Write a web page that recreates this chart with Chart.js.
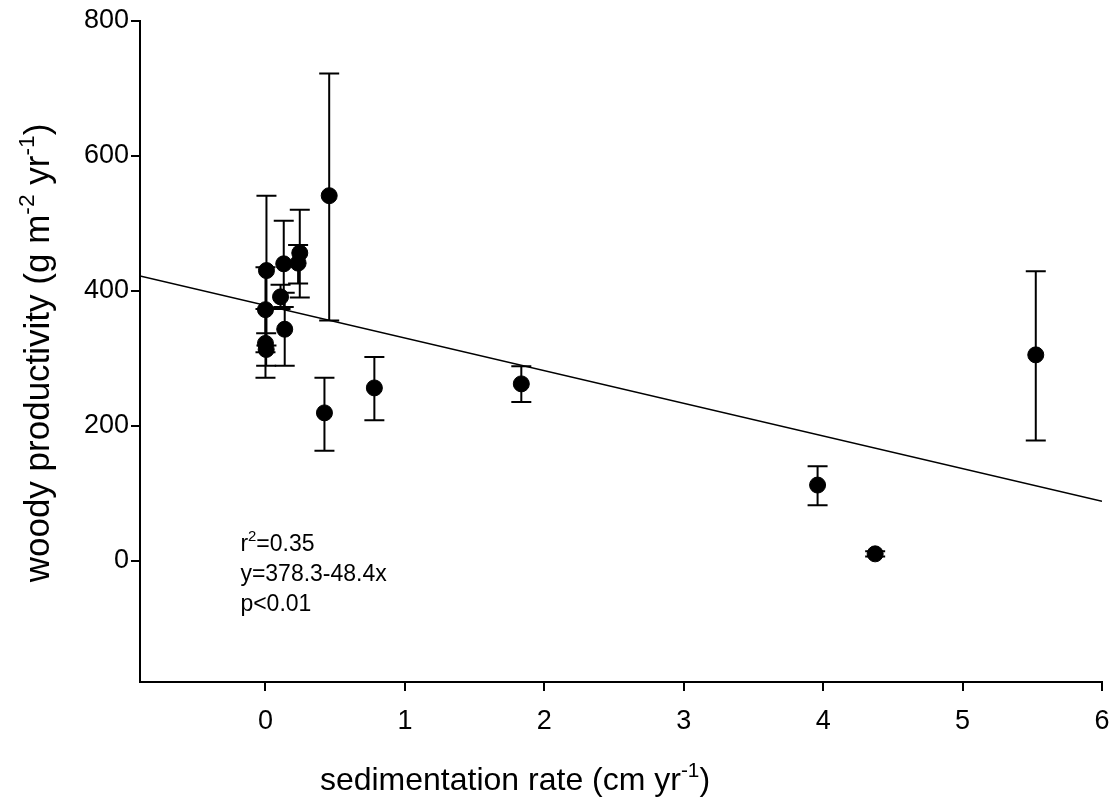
<!DOCTYPE html>
<html>
<head>
<title>Woody productivity vs sedimentation rate</title>
<style>
  body, html { margin: 0; padding: 0; background: #fff; }
  #wrap { width: 1117px; height: 802px; }
</style>
</head>
<body>
<div id="wrap"><canvas id="chart"></canvas></div>
<script src="https://cdn.jsdelivr.net/npm/chart.js"></script>
<script>
// values
const sedRate   = [0.457, 0.007, 0.131, 0.246, 0.234, 0.108, 0.0, 0.138, 0.0, 0.005, 0.423, 0.781, 1.835, 3.96, 4.373, 5.525];
const woodyProd = [541, 430, 440, 456, 441, 391, 372, 343, 322, 313, 219, 256, 262, 112, 10, 305];
const errLow    = [356, 319, 376, 390, 411, 373, 309, 289, 271, 289, 163, 208, 235, 82, 6, 178];
const errHigh   = [722, 541, 504, 520, 468, 409, 435, 397, 373, 337, 271, 302, 288, 140, 14, 429];

// regression line end points
const fitX = [-0.9, 6];
const fitY = [421.9, 87.9];

const xTicks = [0, 1, 2, 3, 4, 5, 6];
const yTicks = [0, 200, 400, 600, 800];

const FONT = '"Liberation Sans", Arial, sans-serif';

// draws text made of [string, isSuperscript] pieces
function richText(ctx, parts, x, y, size, align) {
    let total = 0;
    parts.forEach(p => {
        ctx.font = (p[1] ? size * 0.65 : size) + 'px ' + FONT;
        total += ctx.measureText(p[0]).width;
    });
    let cx = align === 'center' ? x - total / 2 : x;
    ctx.textAlign = 'left';
    ctx.textBaseline = 'alphabetic';
    parts.forEach(p => {
        ctx.font = (p[1] ? size * 0.65 : size) + 'px ' + FONT;
        ctx.fillText(p[0], cx, p[1] ? y - size * 0.42 : y);
        cx += ctx.measureText(p[0]).width;
    });
}

const errorBars = {
    id: 'errorBars',
    beforeDatasetsDraw(chart) {
        const ctx = chart.ctx, xs = chart.scales.x, ys = chart.scales.y;
        ctx.save();
        ctx.strokeStyle = '#000';
        ctx.lineWidth = 2;
        sedRate.forEach((v, i) => {
            const px = xs.getPixelForValue(v);
            const lo = ys.getPixelForValue(errLow[i]);
            const hi = ys.getPixelForValue(errHigh[i]);
            ctx.beginPath();
            ctx.moveTo(px, lo); ctx.lineTo(px, hi);
            ctx.moveTo(px - 10, lo); ctx.lineTo(px + 10, lo);
            ctx.moveTo(px - 10, hi); ctx.lineTo(px + 10, hi);
            ctx.stroke();
        });
        ctx.restore();
    }
};

const labels = {
    id: 'labels',
    afterDraw(chart) {
        const ctx = chart.ctx;
        ctx.save();
        ctx.fillStyle = '#000';
        // x title
        richText(ctx, [['sedimentation rate (cm yr', 0], ['-1', 1], [')', 0]],
            515, 790, 32, 'center');
        // y title
        ctx.translate(49, 353);
        ctx.rotate(-Math.PI / 2);
        richText(ctx, [['woody productivity (g m', 0], ['-2', 1], [' yr', 0], ['-1', 1], [')', 0]],
            0, 0, 35, 'center');
        ctx.restore();
        // fit statistics
        ctx.save();
        ctx.fillStyle = '#000';
        const tx = chart.scales.x.getPixelForValue(-0.18);
        richText(ctx, [['r', 0], ['2', 1], ['=0.35', 0]], tx, 551, 23, 'left');
        richText(ctx, [['y=378.3-48.4x', 0]], tx, 581, 23, 'left');
        richText(ctx, [['p<0.01', 0]], tx, 611, 23, 'left');
        ctx.restore();
    }
};

new Chart(document.getElementById('chart'), {
    type: 'scatter',
    data: {
        datasets: [
            {
                data: sedRate.map((v, i) => ({ x: v, y: woodyProd[i] })),
                backgroundColor: '#000',
                borderColor: '#000',
                pointRadius: 8,
                pointHoverRadius: 8
            },
            {
                type: 'line',
                data: fitX.map((v, i) => ({ x: v, y: fitY[i] })),
                borderColor: '#000',
                borderWidth: 1.5,
                pointRadius: 0,
                fill: false
            }
        ]
    },
    options: {
        responsive: true,
        maintainAspectRatio: false,
        animation: false,
        layout: { padding: { top: 21, right: 15, left: 0, bottom: 0 } },
        plugins: { legend: { display: false }, tooltip: { enabled: false } },
        scales: {
            x: {
                type: 'linear',
                min: -0.9,
                max: 6,
                afterBuildTicks: s => { s.ticks = xTicks.map(v => ({ value: v })); },
                afterFit: s => { s.height = 120; s.paddingLeft = 0; s.paddingRight = 0; },
                border: { display: true, color: '#000', width: 2 },
                grid: { drawOnChartArea: false, drawTicks: true, tickLength: 9, color: '#000', lineWidth: 2 },
                ticks: { color: '#000', padding: 14, font: { family: FONT, size: 27 }, maxRotation: 0 }
            },
            y: {
                type: 'linear',
                min: -180,
                max: 800,
                afterBuildTicks: s => { s.ticks = yTicks.map(v => ({ value: v })); },
                afterFit: s => { s.width = 140; s.paddingTop = 0; s.paddingBottom = 0; },
                border: { display: true, color: '#000', width: 2 },
                grid: { drawOnChartArea: false, drawTicks: true, tickLength: 9, color: '#000', lineWidth: 2 },
                ticks: { color: '#000', padding: 2, font: { family: FONT, size: 27 } }
            }
        }
    },
    plugins: [errorBars, labels]
});
</script>
</body>
</html>
